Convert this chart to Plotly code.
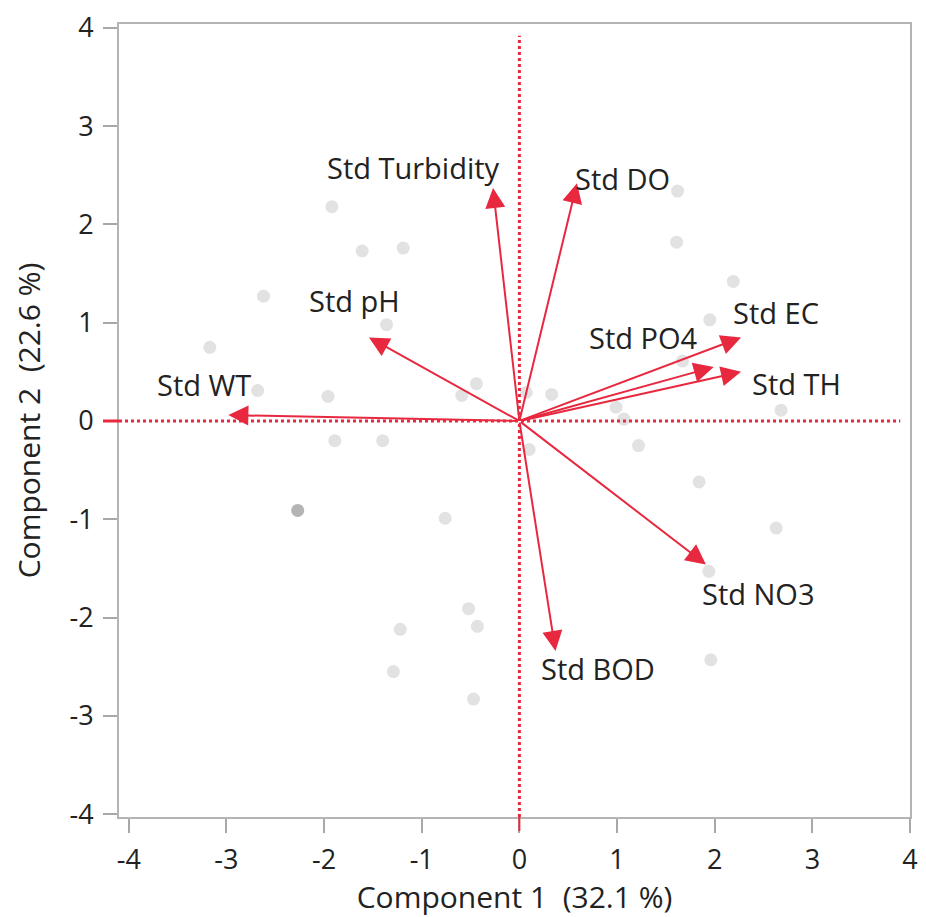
import plotly.graph_objects as go

# Score points (Component 1, Component 2)
score_x = [-1.92, -1.61, -1.19, -2.62, -1.36, -3.17, -2.68, -1.96, -0.44, -0.59,
           -1.89, -1.40, -0.76, -0.52, -0.43, -1.22, -1.29, -0.47,
           1.62, 1.61, 2.19, 1.95, 1.67, 0.07, 0.33, 0.99, 1.07, 2.68,
           0.10, 1.22, 1.84, 2.63, 1.94, 1.96]
score_y = [2.18, 1.73, 1.76, 1.27, 0.98, 0.75, 0.31, 0.25, 0.38, 0.26,
           -0.20, -0.20, -0.99, -1.91, -2.09, -2.12, -2.55, -2.83,
           2.34, 1.82, 1.42, 1.03, 0.61, 0.29, 0.27, 0.14, 0.02, 0.11,
           -0.29, -0.25, -0.62, -1.09, -1.53, -2.43]
# highlighted (darker) score point
dark_x = [-2.27]
dark_y = [-0.91]

# Loadings (arrow tips)
var_names = ["Std WT", "Std pH", "Std Turbidity", "Std DO", "Std EC",
             "Std PO4", "Std TH", "Std NO3", "Std BOD"]
load_x = [-2.98, -1.54, -0.27, 0.59, 2.27, 1.99, 2.27, 1.91, 0.37]
load_y = [0.06, 0.85, 2.37, 2.42, 0.85, 0.55, 0.50, -1.46, -2.34]
# label anchor positions (data coords)
label_x = [-3.23, -1.69, -1.08, 1.06, 2.63, 1.27, 2.84, 2.45, 0.80]
label_y = [0.37, 1.23, 2.58, 2.47, 1.10, 0.85, 0.38, -1.76, -2.52]

tick_vals = [-4, -3, -2, -1, 0, 1, 2, 3, 4]
tick_text = ["-4", "-3", "-2", "-1", "0", "1", "2", "3", "4"]

RED = "#E8283F"

fig = go.Figure()
fig.add_trace(go.Scatter(x=score_x, y=score_y, mode="markers",
                         marker=dict(size=13, color="#E2E2E2"),
                         hoverinfo="skip", showlegend=False))
fig.add_trace(go.Scatter(x=dark_x, y=dark_y, mode="markers",
                         marker=dict(size=13, color="#B4B4B4"),
                         hoverinfo="skip", showlegend=False))

# reference dotted lines
fig.add_shape(type="line", x0=0, x1=0, y0=-4.03, y1=3.92, xref="x", yref="y",
              line=dict(color=RED, width=3, dash="dot"))
fig.add_shape(type="line", x0=-4.1, x1=3.9, y0=0, y1=0, xref="x", yref="y",
              line=dict(color=RED, width=3, dash="dot"))
# red zero ticks
fig.add_shape(type="line", x0=0, x1=0, y0=0, y1=-14, xref="x", yref="paper",
              ysizemode="pixel", yanchor=0,
              line=dict(color=RED, width=2))
fig.add_shape(type="line", y0=0, y1=0, x0=0, x1=-16, yref="y", xref="paper",
              xsizemode="pixel", xanchor=0,
              line=dict(color=RED, width=3))

annotations = []
for name, x, y in zip(var_names, load_x, load_y):
    annotations.append(dict(x=x, y=y, ax=0, ay=0, xref="x", yref="y",
                            axref="x", ayref="y", text="", showarrow=True,
                            arrowhead=2, arrowsize=2, arrowwidth=2,
                            arrowcolor=RED))
for name, x, y in zip(var_names, label_x, label_y):
    annotations.append(dict(x=x, y=y, xref="x", yref="y", text=name,
                            showarrow=False,
                            font=dict(size=29, color="#222222")))

axis_common = dict(showline=True, linecolor="#B4B4B4", linewidth=2, mirror=True,
                   ticks="outside", ticklen=14, tickcolor="#A8A8A8", tickwidth=2,
                   showgrid=False, zeroline=False,
                   tickfont=dict(size=27, color="#222222"),
                   tickmode="array", tickvals=tick_vals, ticktext=tick_text)

fig.update_layout(
    width=926, height=917,
    margin=dict(l=119, r=8, t=20, b=99),
    paper_bgcolor="white", plot_bgcolor="white",
    font=dict(family="Open Sans, Noto Sans, sans-serif", color="#222222"),
    annotations=annotations,
    xaxis=dict(range=[-4.1, 4.0],
               ticklabelstandoff=4,
               title=dict(text="Component 1  (32.1 %)", font=dict(size=30),
                          standoff=11),
               **axis_common),
    yaxis=dict(range=[-4.03, 4.04],
               ticklabelstandoff=4,
               title=dict(text="Component 2  (22.6 %)", font=dict(size=30),
                          standoff=20),
               **axis_common),
)

fig.write_html("out.html")
